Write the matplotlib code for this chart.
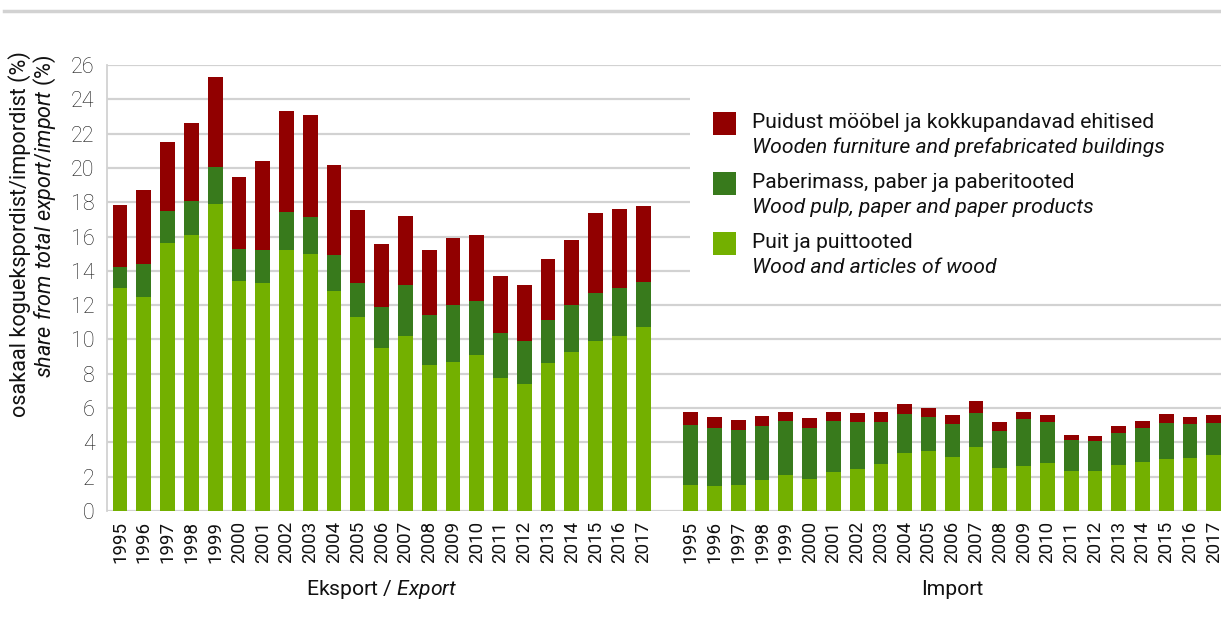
import matplotlib
matplotlib.use('Agg')
import matplotlib.pyplot as plt
import matplotlib.patches as mpatches
from matplotlib.lines import Line2D
import numpy as np

plt.rcParams['font.family'] = ['Roboto', 'DejaVu Sans']
plt.rcParams['mathtext.fontset'] = 'custom'
plt.rcParams['mathtext.rm'] = 'Roboto'
plt.rcParams['mathtext.it'] = 'Roboto:italic'

# aastad
aastad = [str(a) for a in range(1995, 2018)]

# Eksport (% koguekspordist)
eksp_puit = [13.0, 12.5, 15.6, 16.1, 17.9, 13.4, 13.3, 15.2, 15.0, 12.85, 11.3, 9.5,
             10.2, 8.5, 8.7, 9.1, 7.75, 7.4, 8.6, 9.25, 9.9, 10.2, 10.7]
eksp_paber = [1.2, 1.9, 1.9, 2.0, 2.15, 1.85, 1.9, 2.25, 2.15, 2.05, 2.0, 2.4,
              3.0, 2.95, 3.3, 3.15, 2.6, 2.5, 2.55, 2.75, 2.8, 2.8, 2.65]
eksp_mööbel = [3.65, 4.3, 4.0, 4.5, 5.25, 4.25, 5.2, 5.85, 5.95, 5.25, 4.25, 3.65,
               4.0, 3.75, 3.9, 3.85, 3.35, 3.3, 3.55, 3.8, 4.65, 4.6, 4.45]

# Import (% koguimpordist)
imp_puit = [1.5, 1.46, 1.52, 1.8, 2.1, 1.86, 2.27, 2.45, 2.74, 3.38, 3.5, 3.15,
            3.73, 2.5, 2.62, 2.8, 2.33, 2.33, 2.68, 2.86, 3.03, 3.09, 3.27]
imp_paber = [3.51, 3.38, 3.2, 3.15, 3.15, 2.98, 2.98, 2.74, 2.45, 2.28, 1.98, 1.92,
             1.98, 2.16, 2.74, 2.39, 1.81, 1.75, 1.87, 1.98, 2.1, 1.98, 1.86]
imp_mööbel = [0.76, 0.64, 0.58, 0.59, 0.52, 0.58, 0.52, 0.52, 0.58, 0.58, 0.52, 0.55,
              0.72, 0.53, 0.41, 0.43, 0.29, 0.29, 0.41, 0.41, 0.54, 0.41, 0.49]

seeria_et = ['Puidust mööbel ja kokkupandavad ehitised',
             'Paberimass, paber ja paberitooted',
             'Puit ja puittooted']
seeria_en = ['Wooden furniture and prefabricated buildings',
             'Wood pulp, paper and paper products',
             'Wood and articles of wood']

PUNANE = '#910000'
TUMEROHE = '#387a1c'
HELEROHE = '#73b000'
HALL = '#d2d2d2'

W, H = 1221, 637
fig = plt.figure(figsize=(W / 100, H / 100), dpi=100)
ax = fig.add_axes([107 / W, 1 - 511 / H, 1 - 107 / W, (511 - 65) / H])

n = len(aastad)
x_eksp = np.arange(n)
x_imp = np.arange(n) + n + 1
laius = 0.62

for x, puit, paber, mööbel in [(x_eksp, eksp_puit, eksp_paber, eksp_mööbel),
                               (x_imp, imp_puit, imp_paber, imp_mööbel)]:
    puit = np.array(puit)
    paber = np.array(paber)
    mööbel = np.array(mööbel)
    ax.bar(x, puit, laius, color=HELEROHE, zorder=3)
    ax.bar(x, paber, laius, bottom=puit, color=TUMEROHE, zorder=3)
    ax.bar(x, mööbel, laius, bottom=puit + paber, color=PUNANE, zorder=3)

ax.set_ylim(0, 26)
ax.set_yticks(range(0, 27, 2))
ax.set_xlim(-0.55, 46.3)
ax.set_xticks(list(x_eksp) + list(x_imp))
ax.set_xticklabels(aastad + aastad, rotation=90, fontsize=13.5, color='#111111')
ax.tick_params(axis='x', length=0, pad=7)
ax.tick_params(axis='y', length=0, pad=9, labelsize=15.5, labelcolor='#1a1a1a')
for lab in ax.get_yticklabels():
    lab.set_fontweight('light')

ax.yaxis.grid(True, color=HALL, lw=1.6, zorder=0)
for s in ['top', 'right', 'bottom']:
    ax.spines[s].set_visible(False)
ax.spines['left'].set_color(HALL)
ax.spines['left'].set_linewidth(1.3)

# grupi nimed
ax.text(np.mean(x_eksp), -0.177, 'Eksport / $\\mathit{Export}$', transform=ax.get_xaxis_transform(),
        ha='center', va='center', fontsize=15.2, color='#111111')
ax.text(np.mean(x_imp), -0.177, 'Import', transform=ax.get_xaxis_transform(),
        ha='center', va='center', fontsize=15.2, color='#111111')

# y telje pealkiri
fig.text(20 / W, 1 - 51 / H, 'osakaal koguekspordist/impordist (%)', rotation=90,
         ha='center', va='top', fontsize=15.6, color='#111111')
fig.text(45 / W, 1 - 55 / H, '$\\mathit{share\\ from\\ total\\ export/import}$ (%)', rotation=90,
         ha='center', va='top', fontsize=15.6, color='#111111')

# legend (valge taust katab ruudujooni)
fig.patches.append(mpatches.Rectangle((690 / W, 1 - 292 / H), 1 - 690 / W, (292 - 80) / H,
                                      transform=fig.transFigure, facecolor='white',
                                      edgecolor='none', zorder=1))
värvid = [PUNANE, TUMEROHE, HELEROHE]
for i in range(3):
    dy = i * 60
    fig.patches.append(mpatches.Rectangle((713 / W, 1 - (135 + dy) / H), 23 / W, 23 / H,
                                          transform=fig.transFigure, facecolor=värvid[i],
                                          edgecolor='none', zorder=2))
    fig.text(752 / W, 1 - (128 + dy) / H, seeria_et[i], ha='left', va='baseline',
             fontsize=15.2, color='#111111', zorder=3)
    fig.text(752 / W, 1 - (153 + dy) / H, seeria_en[i], ha='left', va='baseline',
             fontsize=15.2, style='italic', color='#111111', zorder=3)

# ülemine joon
fig.add_artist(Line2D([4 / W, 1], [1 - 11 / H, 1 - 11 / H], transform=fig.transFigure,
                      color=HALL, lw=2.5))

fig.savefig('out.png', dpi=100)
